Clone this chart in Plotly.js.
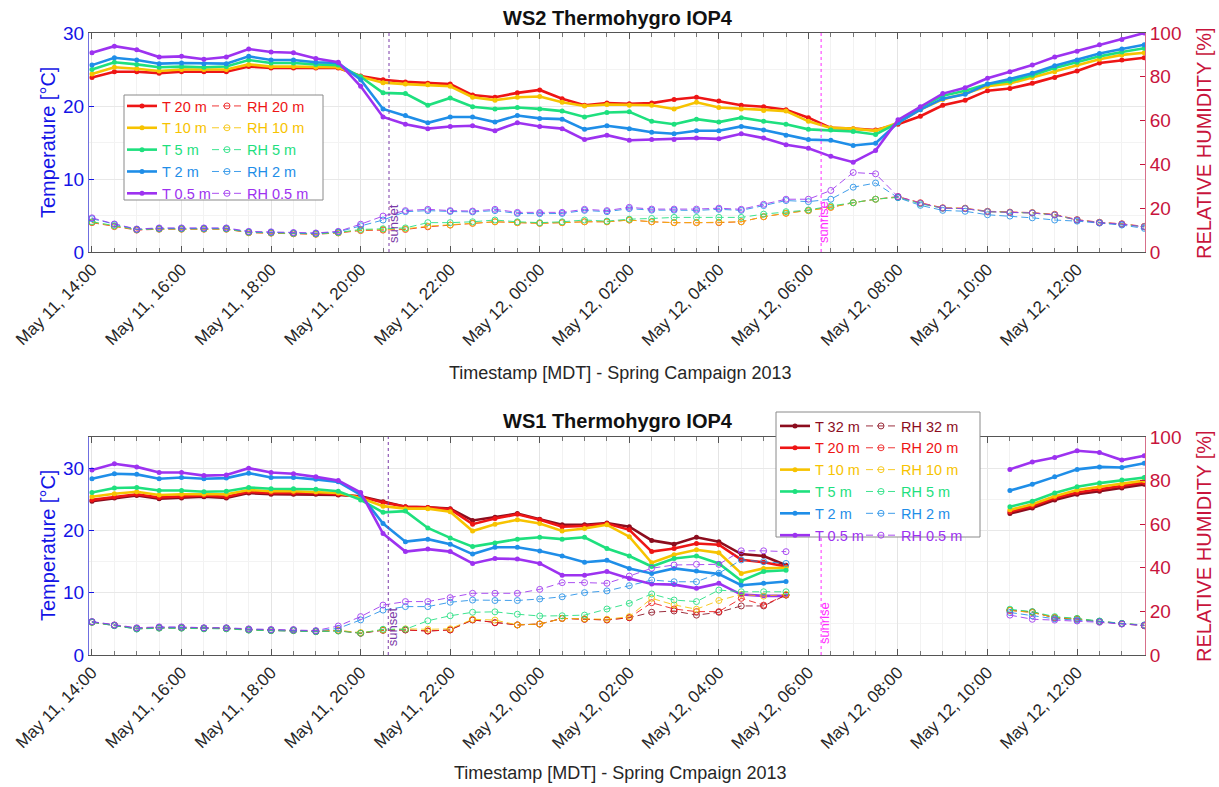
<!DOCTYPE html>
<html>
<head>
<meta charset="utf-8">
<script src="https://cdn.plot.ly/plotly-3.0.1.min.js"></script>
<style>html,body{margin:0;padding:0;background:#fff;}#chart{width:1219px;height:787px;}</style>
</head>
<body>
<div id="chart"></div>
<script>
// Timestamps (30-min samples)
const times = [
 '2013-05-11 14:00','2013-05-11 14:30','2013-05-11 15:00','2013-05-11 15:30','2013-05-11 16:00','2013-05-11 16:30',
 '2013-05-11 17:00','2013-05-11 17:30','2013-05-11 18:00','2013-05-11 18:30','2013-05-11 19:00','2013-05-11 19:30',
 '2013-05-11 20:00','2013-05-11 20:30','2013-05-11 21:00','2013-05-11 21:30','2013-05-11 22:00','2013-05-11 22:30',
 '2013-05-11 23:00','2013-05-11 23:30','2013-05-12 00:00','2013-05-12 00:30','2013-05-12 01:00','2013-05-12 01:30',
 '2013-05-12 02:00','2013-05-12 02:30','2013-05-12 03:00','2013-05-12 03:30','2013-05-12 04:00','2013-05-12 04:30',
 '2013-05-12 05:00','2013-05-12 05:30','2013-05-12 06:00','2013-05-12 06:30','2013-05-12 07:00','2013-05-12 07:30',
 '2013-05-12 08:00','2013-05-12 08:30','2013-05-12 09:00','2013-05-12 09:30','2013-05-12 10:00','2013-05-12 10:30',
 '2013-05-12 11:00','2013-05-12 11:30','2013-05-12 12:00','2013-05-12 12:30','2013-05-12 13:00','2013-05-12 13:30'
];

// ---------- WS2 (top) temperature [°C] ----------
const ws2_T20 = [23.9,24.7,24.7,24.5,24.7,24.7,24.7,25.4,25.2,25.2,25.2,25.2,24.1,23.6,23.3,
 23.1,23.0,21.5,21.2,21.8,22.2,21.0,20.1,20.4,20.3,20.4,20.9,21.2,20.7,20.1,19.9,19.5,18.4,
 17.0,16.9,16.7,17.5,18.6,20.1,20.8,22.1,22.4,23.1,23.9,24.8,25.9,26.3,26.6];
const ws2_T10 = [24.4,25.3,25.1,24.8,25.0,25.0,25.0,25.7,25.4,25.4,25.3,25.3,24.0,23.2,23.0,
 22.9,22.7,21.2,20.8,21.2,21.3,20.5,20.0,20.2,20.1,20.1,19.6,20.5,19.8,19.6,19.4,19.3,17.9,
 17.0,16.9,16.6,17.7,19.5,20.9,21.7,22.7,23.1,23.9,24.7,25.6,26.4,27.0,27.3];
const ws2_T5 = [25.0,26.0,25.7,25.3,25.4,25.3,25.4,26.3,25.9,25.9,25.7,25.6,24.0,21.8,21.7,
 20.1,21.1,19.9,19.6,19.8,19.6,19.3,18.5,19.1,19.2,17.9,17.5,18.2,17.8,18.4,17.9,17.5,16.8,
 16.7,16.5,16.1,17.7,19.8,21.4,22.1,23.0,23.4,24.2,25.2,26.0,26.8,27.4,27.9];
const ws2_T2 = [25.6,26.6,26.3,25.8,25.9,25.8,25.8,26.8,26.3,26.3,26.0,25.9,23.6,19.6,18.7,
 17.7,18.5,18.5,17.8,18.7,18.3,18.2,16.8,17.3,16.9,16.4,16.2,16.6,16.6,17.2,16.7,16.0,15.4,
 15.3,14.6,14.9,17.7,19.5,21.0,21.6,23.0,23.7,24.5,25.5,26.3,27.2,27.8,28.4];
const ws2_T05 = [27.3,28.2,27.7,26.7,26.8,26.4,26.7,27.8,27.4,27.3,26.5,26.0,22.7,18.5,17.5,
 16.9,17.2,17.3,16.6,17.7,17.2,16.9,15.4,16.0,15.3,15.4,15.4,15.6,15.5,16.2,15.6,14.7,14.2,
 13.1,12.3,13.9,18.1,19.9,21.7,22.5,23.8,24.7,25.6,26.7,27.5,28.4,29.1,30.0];

// ---------- WS2 (top) relative humidity [%] ----------
const ws2_RH20 = [13.4,11.6,10.0,10.4,10.4,10.4,10.4,8.8,8.6,8.3,8.1,8.7,9.8,10.0,10.3,
 11.5,12.3,13.1,13.8,13.4,13.1,13.4,13.8,13.8,14.6,13.8,13.4,13.4,13.4,13.8,16.1,17.7,18.9,
 20.4,22.5,24.1,25.3,22.5,20.2,20.0,18.6,18.2,18.0,17.2,14.8,13.6,12.9,11.7];
const ws2_RH10 = [13.6,11.8,10.2,10.5,10.5,10.5,10.5,8.9,8.7,8.4,8.2,8.8,10.0,10.3,10.6,
 11.8,12.3,13.1,13.8,13.4,13.1,13.4,13.8,13.8,14.6,13.8,13.4,13.4,13.6,13.8,16.1,17.7,18.9,
 20.4,22.5,24.1,25.0,22.3,20.0,19.9,18.4,18.0,17.8,16.9,14.6,13.4,12.7,11.5];
const ws2_RH5 = [13.8,12.0,10.3,10.6,10.6,10.6,10.6,9.0,8.8,8.5,8.3,8.9,10.3,10.6,11.0,
 13.4,13.4,13.8,14.6,13.8,13.4,13.8,14.6,14.1,15.0,15.3,15.8,15.8,15.8,15.8,17.3,18.4,19.2,
 21.0,22.5,24.1,25.0,22.0,20.0,19.8,18.4,18.0,17.8,16.9,14.6,13.4,12.7,11.5];
const ws2_RH2 = [15.2,12.6,10.3,10.8,10.8,10.8,10.8,9.2,9.0,8.7,8.5,9.2,12.0,14.6,18.4,
 18.9,18.5,18.3,18.9,17.6,17.5,17.6,19.0,18.4,19.8,19.1,19.1,19.0,19.5,19.0,21.2,23.5,23.0,
 24.1,29.6,31.5,24.8,21.3,19.0,18.6,17.0,16.4,15.6,14.6,14.1,13.2,12.3,10.8];
const ws2_RH05 = [15.6,12.8,10.5,11.0,11.0,11.0,11.0,9.4,9.2,8.9,8.7,9.4,12.7,16.4,18.9,
 19.5,18.9,18.7,19.5,18.1,18.0,18.1,19.5,18.9,20.4,19.6,19.6,19.6,20.0,19.5,21.8,24.1,24.1,
 28.1,36.3,35.7,25.3,22.3,20.0,19.8,18.4,18.0,17.8,16.9,14.6,13.4,12.7,11.5];

// ---------- WS1 (bottom) temperature [°C] (gap = missing data) ----------
const ws1_T32 = [24.7,25.2,25.6,25.1,25.2,25.4,25.2,26.0,25.8,25.8,25.8,25.7,25.5,24.6,23.8,
 23.7,23.5,21.6,22.1,22.7,21.8,20.9,20.9,21.2,20.6,18.4,17.8,18.9,18.2,16.2,15.9,14.4,
 null,null,null,null,null,null,null,null,null,
 22.7,23.6,24.9,25.8,26.3,26.8,27.4];
const ws1_T20 = [24.9,25.4,25.8,25.3,25.4,25.6,25.4,26.2,26.0,26.0,26.0,25.8,25.4,24.5,23.8,
 23.7,23.4,21.0,21.9,22.6,21.7,20.6,20.7,21.1,20.1,16.6,17.1,17.9,17.7,15.3,14.9,14.2,
 null,null,null,null,null,null,null,null,null,
 23.0,23.9,25.2,26.1,26.6,27.1,27.7];
const ws1_T10 = [25.4,25.9,26.2,25.7,25.8,25.8,25.8,26.5,26.3,26.3,26.2,26.0,25.2,23.9,23.5,
 23.5,23.0,19.9,21.0,21.7,21.1,19.9,20.3,20.9,19.0,14.8,16.1,16.9,16.4,13.1,13.9,14.0,
 null,null,null,null,null,null,null,null,null,
 23.3,24.2,25.5,26.5,27.0,27.5,28.0];
const ws1_T5 = [26.1,26.8,26.9,26.4,26.4,26.2,26.3,26.9,26.7,26.7,26.6,26.3,24.9,22.9,23.1,
 20.4,18.8,17.4,18.0,18.6,18.9,18.6,18.9,17.1,15.9,14.2,15.5,15.9,14.7,11.9,13.4,13.6,
 null,null,null,null,null,null,null,null,null,
 23.8,24.7,26.0,27.0,27.6,28.1,28.5];
const ws1_T2 = [28.3,29.1,29.0,28.3,28.5,28.3,28.4,29.2,28.5,28.5,28.2,27.8,25.7,21.1,18.2,
 18.6,17.8,16.2,17.3,17.3,16.7,15.9,14.9,15.2,13.9,13.1,13.9,13.5,13.0,11.2,11.5,11.8,
 null,null,null,null,null,null,null,null,null,
 26.4,27.4,28.6,29.8,30.2,30.1,30.8];
const ws1_T05 = [29.7,30.7,30.2,29.3,29.3,28.8,28.9,30.0,29.3,29.1,28.6,28.0,26.1,19.5,16.6,
 17.0,16.6,14.7,15.5,15.4,14.7,12.8,12.8,13.4,12.3,11.4,11.3,10.7,11.5,9.7,9.5,9.5,
 null,null,null,null,null,null,null,null,null,
 29.8,31.0,31.7,32.8,32.5,31.3,32.0];

// ---------- WS1 (bottom) relative humidity [%] ----------
const ws1_RH32 = [15.0,13.5,12.0,12.4,12.4,12.1,12.1,11.5,11.2,11.2,10.7,11.1,10.0,11.3,11.5,
 11.0,11.5,16.1,14.8,13.8,14.2,16.8,16.4,16.1,17.1,19.6,20.2,18.3,19.6,22.5,22.5,27.5,
 null,null,null,null,null,null,null,null,null,
 20.5,19.8,17.0,16.5,15.3,14.3,13.4];
const ws1_RH20 = [15.2,13.7,12.2,12.6,12.6,12.3,12.3,11.7,11.4,11.4,10.9,11.3,10.0,11.5,11.5,
 11.0,11.5,16.1,14.8,13.8,14.2,16.8,16.4,16.1,17.1,24.0,21.1,19.9,19.9,26.0,22.9,27.5,
 null,null,null,null,null,null,null,null,null,
 20.5,19.5,17.2,16.6,15.4,14.4,13.6];
const ws1_RH10 = [15.2,13.7,12.2,12.6,12.6,12.3,12.3,11.7,11.4,11.4,10.9,11.3,10.3,11.5,12.0,
 11.8,12.0,16.4,16.0,13.8,14.2,16.8,16.6,16.4,17.6,26.0,23.0,21.0,25.0,27.8,27.0,27.8,
 null,null,null,null,null,null,null,null,null,
 20.5,19.5,17.2,16.6,15.4,14.4,13.6];
const ws1_RH5 = [15.0,13.5,11.9,12.3,12.3,12.0,12.0,11.4,11.2,11.2,10.7,11.0,10.0,11.8,11.8,
 15.7,18.0,19.6,19.8,18.7,17.9,18.0,18.3,21.1,23.7,28.0,25.2,24.5,29.8,29.0,29.0,29.0,
 null,null,null,null,null,null,null,null,null,
 21.0,19.9,17.6,16.8,15.6,14.5,13.8];
const ws1_RH2 = [15.3,13.6,12.2,12.7,12.7,12.4,12.4,11.8,11.5,11.5,11.0,12.2,16.1,20.6,22.2,
 22.2,24.2,25.2,25.0,25.0,25.7,26.7,28.6,29.4,31.8,34.4,33.6,33.6,37.5,43.6,42.8,42.0,
 null,null,null,null,null,null,null,null,null,
 19.5,18.0,16.6,16.0,15.4,14.4,13.6];
const ws1_RH05 = [15.3,13.8,12.5,12.9,12.9,12.5,12.5,12.0,11.7,11.7,11.2,13.3,17.6,22.9,24.5,
 24.5,26.3,28.3,28.3,28.3,30.1,33.2,33.2,32.9,36.2,39.8,41.3,41.6,41.6,47.8,47.8,47.4,
 null,null,null,null,null,null,null,null,null,
 18.3,16.4,16.0,15.6,15.0,14.2,13.6];

const sunset = ['2013-05-11 20:38', '2013-05-11 20:37'];
const sunrise = ['2013-05-12 06:17', '2013-05-12 06:17'];

// ---------- styling ----------
const COL = {'32':'#8c0d1e','20':'#ee1515','10':'#f7c300','5':'#1ee07e','2':'#1f8ee8','0.5':'#9d32f0'};
const FONT = 'Liberation Sans, Arial, Helvetica, sans-serif';
const BLUE = '#1414e6', CRIM = '#c8143c';

function tTrace(y, h, xa, ya, leg) {
  return {x: times, y: y, xaxis: xa, yaxis: ya, type: 'scatter', mode: 'lines+markers',
    name: '<span style="color:' + COL[h] + '">T ' + h + ' m</span>', legend: leg,
    line: {color: COL[h], width: 2.6}, marker: {color: COL[h], size: 5, symbol: 'circle'},
    connectgaps: false, hoverinfo: 'skip'};
}
function rhTrace(y, h, xa, ya, leg) {
  return {x: times, y: y, xaxis: xa, yaxis: ya, type: 'scatter', mode: 'lines+markers',
    name: '<span style="color:' + COL[h] + '">RH ' + h + ' m</span>', legend: leg,
    line: {color: COL[h], width: 1, dash: '7px,4px'}, opacity: 0.85,
    marker: {color: COL[h], size: 6, symbol: 'circle-open', line: {color: COL[h], width: 1}},
    connectgaps: false, hoverinfo: 'skip'};
}

const data = [
  rhTrace(ws2_RH20, '20', 'x', 'y2', 'legend2'),
  rhTrace(ws2_RH10, '10', 'x', 'y2', 'legend2'),
  rhTrace(ws2_RH5, '5', 'x', 'y2', 'legend2'),
  rhTrace(ws2_RH2, '2', 'x', 'y2', 'legend2'),
  rhTrace(ws2_RH05, '0.5', 'x', 'y2', 'legend2'),
  tTrace(ws2_T20, '20', 'x', 'y', 'legend'),
  tTrace(ws2_T10, '10', 'x', 'y', 'legend'),
  tTrace(ws2_T5, '5', 'x', 'y', 'legend'),
  tTrace(ws2_T2, '2', 'x', 'y', 'legend'),
  tTrace(ws2_T05, '0.5', 'x', 'y', 'legend'),
  rhTrace(ws1_RH32, '32', 'x2', 'y4', 'legend4'),
  rhTrace(ws1_RH20, '20', 'x2', 'y4', 'legend4'),
  rhTrace(ws1_RH10, '10', 'x2', 'y4', 'legend4'),
  rhTrace(ws1_RH5, '5', 'x2', 'y4', 'legend4'),
  rhTrace(ws1_RH2, '2', 'x2', 'y4', 'legend4'),
  rhTrace(ws1_RH05, '0.5', 'x2', 'y4', 'legend4'),
  tTrace(ws1_T32, '32', 'x2', 'y3', 'legend3'),
  tTrace(ws1_T20, '20', 'x2', 'y3', 'legend3'),
  tTrace(ws1_T10, '10', 'x2', 'y3', 'legend3'),
  tTrace(ws1_T5, '5', 'x2', 'y3', 'legend3'),
  tTrace(ws1_T2, '2', 'x2', 'y3', 'legend3'),
  tTrace(ws1_T05, '0.5', 'x2', 'y3', 'legend3')
];

const xBase = {
  type: 'date', range: ['2013-05-11 13:56', '2013-05-12 13:31'],
  dtick: 7200000, tick0: '2013-05-11 14:00', tickformat: '%b %d, %H:%M', tickangle: -45,
  tickfont: {family: FONT, size: 17, color: '#262626'},
  showgrid: true, gridcolor: '#e4e4e4', gridwidth: 1,
  ticks: 'inside', ticklen: 6, tickcolor: '#555',
  minor: {dtick: 1800000, tick0: '2013-05-11 14:00', showgrid: true, gridcolor: '#f2f2f2', ticks: 'inside', ticklen: 4, tickcolor: '#777'},
  showline: true, linecolor: '#555', linewidth: 1, mirror: 'ticks', zeroline: false
};
function yLeft(domain, range) {
  return {domain: domain, range: range, tickvals: [0, 10, 20, 30], ticks: 'inside', ticklen: 5,
    tickcolor: BLUE, tickfont: {family: FONT, size: 19, color: BLUE},
    showline: true, linecolor: '#6f6fe0', linewidth: 1, zeroline: false,
    showgrid: true, gridcolor: '#e8e8e8', minor: {dtick: 5, showgrid: true, gridcolor: '#f3f3f3'}};
}
function yRight(overlay, anchor) {
  return {overlaying: overlay, anchor: anchor, side: 'right', range: [0, 100], tickvals: [0, 20, 40, 60, 80, 100],
    ticks: 'inside', ticklen: 5, tickcolor: CRIM, tickfont: {family: FONT, size: 19, color: CRIM},
    showline: true, linecolor: '#d7708a', linewidth: 1, zeroline: false, showgrid: false};
}

const P = y => (655 - y) / 622;         // pixel y -> paper y
const PX = x => (x - 89) / 1056;        // pixel x -> paper x

function legendAt(px, py) {
  return {x: PX(px), y: P(py), xanchor: 'left', yanchor: 'top', bgcolor: 'rgba(0,0,0,0)', borderwidth: 0,
    font: {family: FONT, size: 14.5}, itemwidth: 30, tracegroupgap: 0};
}
function ann(text, x, y, size, color, extra) {
  return Object.assign({text: text, xref: 'paper', yref: 'paper', x: x, y: y, showarrow: false,
    xanchor: 'center', yanchor: 'middle', font: {family: FONT, size: size, color: color}}, extra || {});
}

const layout = {
  width: 1219, height: 787, margin: {l: 89, r: 74, t: 33, b: 132},
  paper_bgcolor: '#fff', plot_bgcolor: '#fff', font: {family: FONT},
  xaxis: Object.assign({}, xBase, {anchor: 'y', domain: [0, 1]}),
  xaxis2: Object.assign({}, xBase, {anchor: 'y3', domain: [0, 1]}),
  yaxis: yLeft([P(252), 1], [0, 30]),
  yaxis2: yRight('y', 'x'),
  yaxis3: yLeft([0, P(437)], [0, 35]),
  yaxis4: yRight('y3', 'x2'),
  legend: legendAt(122, 90),
  legend2: legendAt(207, 90),
  legend3: legendAt(775, 410),
  legend4: legendAt(861, 410),
  shapes: [
    {type: 'line', xref: 'x', yref: 'y domain', x0: sunset[0], x1: sunset[0], y0: 0, y1: 1, line: {color: '#7b3aa8', width: 1, dash: 'dot'}},
    {type: 'line', xref: 'x', yref: 'y domain', x0: sunrise[0], x1: sunrise[0], y0: 0, y1: 1, line: {color: '#ff2cff', width: 1, dash: 'dot'}},
    {type: 'line', xref: 'x2', yref: 'y3 domain', x0: sunset[1], x1: sunset[1], y0: 0, y1: 1, line: {color: '#7b3aa8', width: 1, dash: 'dot'}},
    {type: 'line', xref: 'x2', yref: 'y3 domain', x0: sunrise[1], x1: sunrise[1], y0: 0, y1: 1, line: {color: '#ff2cff', width: 1, dash: 'dot'}},
    {type: 'rect', xref: 'paper', yref: 'paper', x0: PX(124), x1: PX(323), y0: P(200), y1: P(95), layer: 'above',
      fillcolor: '#fff', line: {color: '#8a8a8a', width: 1}},
    {type: 'rect', xref: 'paper', yref: 'paper', x0: PX(776), x1: PX(980), y0: P(537), y1: P(412), layer: 'above',
      fillcolor: '#fff', line: {color: '#8a8a8a', width: 1}}
  ],
  annotations: [
    ann('<b>WS2 Thermohygro IOP4</b>', PX(618), P(18), 20, '#111'),
    ann('<b>WS1 Thermohygro IOP4</b>', PX(618), P(421), 20, '#111'),
    ann('Timestamp [MDT] - Spring Campaign 2013', PX(620), P(373), 18, '#262626'),
    ann('Timestamp [MDT] - Spring Cmpaign 2013', PX(620), P(773), 18, '#262626'),
    ann('Temperature [°C]', PX(48), P(143), 20, BLUE, {textangle: -90}),
    ann('Temperature [°C]', PX(48), P(546), 20, BLUE, {textangle: -90}),
    ann('RELATIVE HUMIDITY [%]', PX(1204), P(143), 20, CRIM, {textangle: -90}),
    ann('RELATIVE HUMIDITY [%]', PX(1204), P(546), 20, CRIM, {textangle: -90}),
    {text: 'sunset', xref: 'x', yref: 'paper', x: sunset[0], y: P(224), xshift: 4, textangle: -90, showarrow: false,
      xanchor: 'center', yanchor: 'middle', font: {family: FONT, size: 13, color: '#7b3aa8'}},
    {text: 'sunrise', xref: 'x', yref: 'paper', x: sunrise[0], y: P(222), xshift: 3, textangle: -90, showarrow: false,
      xanchor: 'center', yanchor: 'middle', font: {family: FONT, size: 13, color: '#ff2cff'}},
    {text: 'sunset', xref: 'x2', yref: 'paper', x: sunset[1], y: P(627), xshift: 4, textangle: -90, showarrow: false,
      xanchor: 'center', yanchor: 'middle', font: {family: FONT, size: 13, color: '#7b3aa8'}},
    {text: 'sunrise', xref: 'x2', yref: 'paper', x: sunrise[1], y: P(623), xshift: 3, textangle: -90, showarrow: false,
      xanchor: 'center', yanchor: 'middle', font: {family: FONT, size: 13, color: '#ff2cff'}}
  ],
  showlegend: true
};

Plotly.newPlot('chart', data, layout, {staticPlot: true, displayModeBar: false});
</script>
</body>
</html>
